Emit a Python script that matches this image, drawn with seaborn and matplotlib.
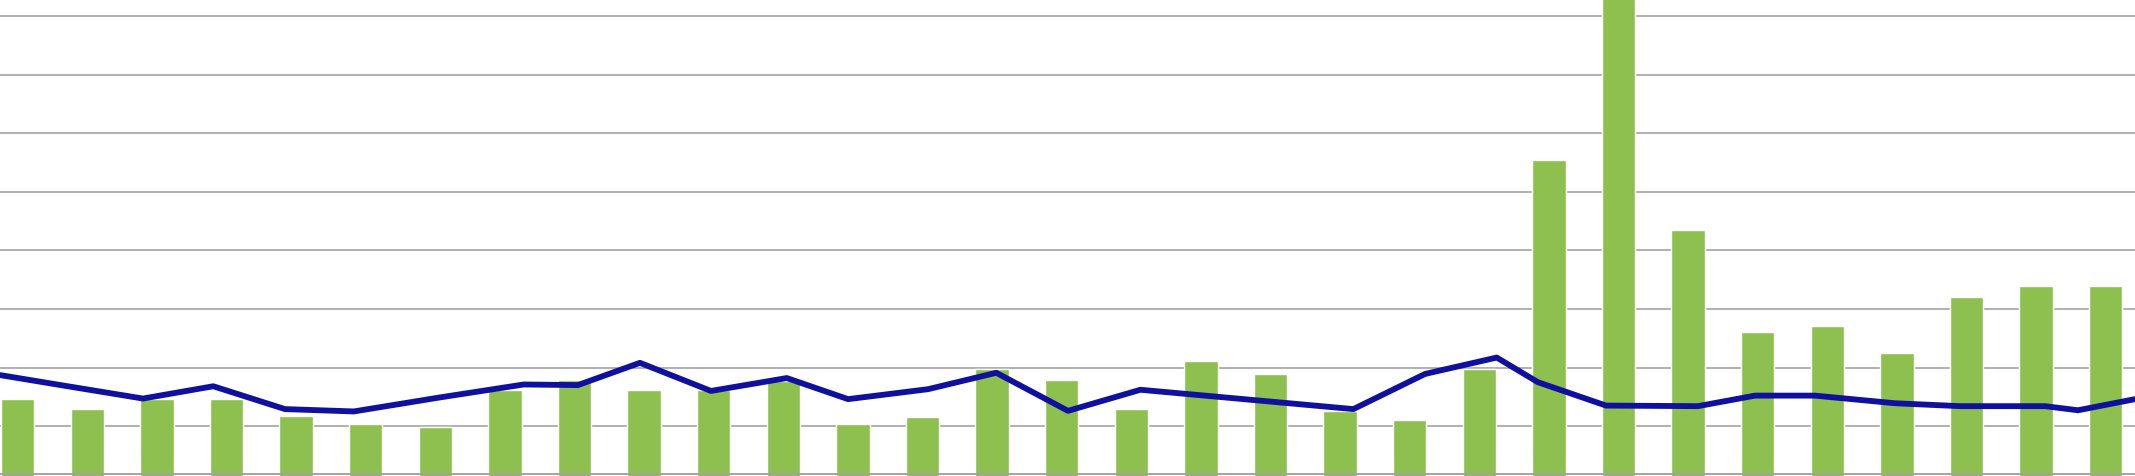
import numpy as np
import pandas as pd
import matplotlib
matplotlib.use("Agg")
import matplotlib.pyplot as plt
import seaborn as sns

# ---------------- DATA ----------------
# one bar per day (gridlines every 10)
bar_days = list(range(1, 32))
bar_values = [
    14.7, 12.9, 14.7, 14.7, 11.8, 10.4, 9.8, 16.2, 17.9, 16.2,
    16.1, 17.7, 10.4, 11.5, 19.7, 17.9, 12.9, 21.1, 18.9, 12.5,
    11.1, 19.7, 55.5, 88.0, 43.5, 26.1, 27.1, 22.5, 32.1, 33.9,
    33.9,
]

# line series sits on its own (irregular) positions along the day axis
line_pos = [
    -0.25, 0.77, 1.80, 2.81, 3.84, 4.83, 6.07, 7.27, 8.05, 8.94,
    9.96, 11.05, 11.93, 13.08, 14.06, 15.09, 16.13, 19.19, 20.22, 21.25,
    21.84, 22.82, 24.14, 24.96, 25.82, 26.97, 27.91, 29.13, 29.60, 30.42,
]
line_values = [
    18.7, 16.7, 14.7, 16.8, 12.9, 12.5, 14.9, 17.1, 17.0, 20.8,
    16.0, 18.2, 14.6, 16.3, 19.1, 12.6, 16.2, 12.9, 18.9, 21.7,
    17.5, 13.5, 13.4, 15.2, 15.2, 13.9, 13.4, 13.4, 12.7, 14.6,
]

bars = pd.DataFrame({"day": bar_days, "value": bar_values})
line = pd.DataFrame({"pos": line_pos, "value": line_values})

# ---------------- PLOT ----------------
sns.set_style("white")

fig = plt.figure(figsize=(21.35, 4.77), dpi=100)
ax = fig.add_axes([0, 0, 1, 1])

sns.barplot(
    data=bars, x="day", y="value", ax=ax,
    color="#8DC04F", saturation=1, width=0.48,
    errorbar=None, zorder=2,
)

sns.lineplot(
    data=line, x="pos", y="value", ax=ax,
    color="#1010A0", linewidth=4.2, sort=False,
    estimator=None, zorder=4,
)

ax.set_xlim(-0.254, 30.42)
ax.set_ylim(1.48, 82.9)

ax.set_yticks(range(10, 90, 10))
ax.grid(axis="y", color="#A3A3A3", linewidth=1.2, zorder=0)
ax.set_axisbelow(True)

# category axis line near the bottom edge
ax.axhline(1.83, color="#A3A3A3", linewidth=1.4, zorder=3)

ax.set_xlabel("")
ax.set_ylabel("")
ax.set_xticks([])
ax.tick_params(left=False, labelleft=False)
for side in ax.spines:
    ax.spines[side].set_visible(False)

fig.savefig("out.png", dpi=100)
plt.close(fig)
